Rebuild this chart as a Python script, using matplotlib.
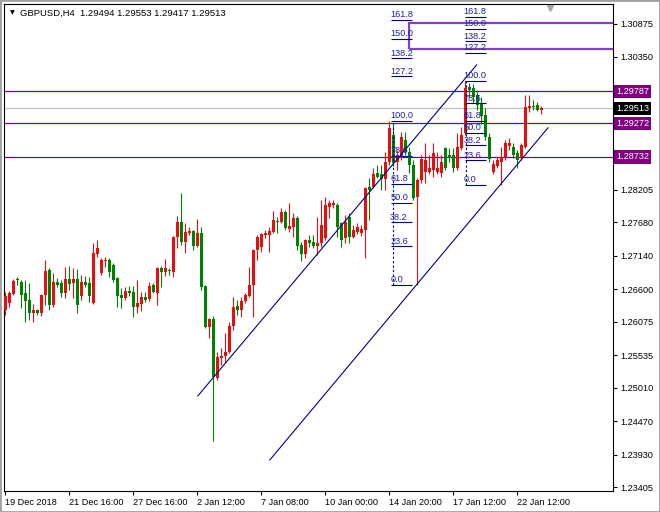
import numpy as np
import matplotlib.pyplot as plt
from matplotlib.patches import Rectangle
import matplotlib.transforms as mtransforms

plt.rcParams['font.family'] = ['Liberation Sans', 'DejaVu Sans']

# GBPUSD H4 bars (open, high, low, close)
opens = [
    1.26266, 1.26379, 1.26524, 1.26766, 1.26717, 1.26540, 1.26427, 1.26218, 1.26266, 1.26218,
    1.26508, 1.26911, 1.26347, 1.26717, 1.26701, 1.26540, 1.26766, 1.26701, 1.26766, 1.26492,
    1.26717, 1.26701, 1.26379, 1.27168, 1.26862, 1.27056, 1.27072, 1.26991, 1.26782, 1.26508,
    1.26459, 1.26572, 1.26556, 1.26314, 1.26363, 1.26475, 1.26443, 1.26669, 1.26540, 1.26943,
    1.26878, 1.26911, 1.26878, 1.27443, 1.27684, 1.27362, 1.27507, 1.27539, 1.27297, 1.27507,
    1.26653, 1.25992, 1.26121, 1.25170, 1.25492, 1.25525, 1.25589, 1.26008, 1.26330, 1.26266,
    1.26411, 1.26492, 1.26669, 1.27233, 1.27281, 1.27475, 1.27475, 1.27523, 1.27700, 1.27684,
    1.27845, 1.27571, 1.27604, 1.27749, 1.27314, 1.27168, 1.27394, 1.27362, 1.27297, 1.27346,
    1.27426, 1.27926, 1.27958, 1.27958, 1.27668, 1.27426, 1.27765, 1.27443, 1.27523, 1.27507,
    1.27555, 1.28248, 1.28248, 1.28474, 1.28458, 1.28377, 1.28651, 1.29086, 1.28651, 1.28716,
    1.29006, 1.28812, 1.28603, 1.28087, 1.28361, 1.28490, 1.28490, 1.28522, 1.28490, 1.28474,
    1.28877, 1.28764, 1.28764, 1.28555, 1.28877, 1.29119, 1.29860, 1.29844, 1.29731, 1.29586,
    1.29409, 1.29054, 1.28490, 1.28587, 1.28651, 1.28732, 1.28909, 1.28893, 1.28796, 1.28716,
    1.28893, 1.29521, 1.29554, 1.29570, 1.29494]
highs = [
    1.26556, 1.26572, 1.26766, 1.26798, 1.26749, 1.26749, 1.26701, 1.26363, 1.26282, 1.26524,
    1.27072, 1.26943, 1.26862, 1.26782, 1.26749, 1.26959, 1.26975, 1.26943, 1.26927, 1.26830,
    1.26814, 1.26798, 1.27346, 1.27394, 1.27104, 1.27120, 1.27104, 1.27023, 1.26798, 1.26621,
    1.26637, 1.26653, 1.26653, 1.26749, 1.26556, 1.26556, 1.26717, 1.26701, 1.26959, 1.26975,
    1.27088, 1.26943, 1.27459, 1.27781, 1.28152, 1.27668, 1.27604, 1.27555, 1.27733, 1.27604,
    1.26669, 1.26137, 1.26169, 1.25589, 1.25654, 1.25895, 1.26073, 1.26475, 1.26427, 1.26475,
    1.26540, 1.26959, 1.27249, 1.27475, 1.27507, 1.27555, 1.27604, 1.27862, 1.27765, 1.27910,
    1.27878, 1.27990, 1.27829, 1.27781, 1.27362, 1.27410, 1.27475, 1.27475, 1.27765, 1.28039,
    1.28087, 1.28039, 1.28039, 1.27990, 1.27684, 1.27797, 1.27829, 1.27636, 1.27668, 1.27636,
    1.28250, 1.28393, 1.28555, 1.28603, 1.28603, 1.28812, 1.29312, 1.29248, 1.28845, 1.29135,
    1.29135, 1.28893, 1.28684, 1.28393, 1.28764, 1.28958, 1.28764, 1.28958, 1.28812, 1.28764,
    1.28893, 1.28877, 1.28877, 1.29119, 1.29215, 1.29957, 1.29924, 1.29908, 1.29812, 1.29699,
    1.29521, 1.29119, 1.28684, 1.28732, 1.28893, 1.29006, 1.29038, 1.28958, 1.28845, 1.28958,
    1.29731, 1.29731, 1.29651, 1.29618, 1.29553]
lows = [
    1.26185, 1.26314, 1.26508, 1.26669, 1.26298, 1.26073, 1.26105, 1.26073, 1.26185, 1.26169,
    1.26347, 1.26266, 1.26314, 1.26637, 1.26475, 1.26459, 1.26588, 1.26459, 1.26218, 1.26427,
    1.26637, 1.26395, 1.26363, 1.27120, 1.26830, 1.26959, 1.26798, 1.26717, 1.26314, 1.26298,
    1.26427, 1.26492, 1.26153, 1.26218, 1.26250, 1.26395, 1.26411, 1.26540, 1.26347, 1.26637,
    1.26814, 1.26830, 1.26798, 1.27265, 1.27314, 1.27185, 1.27475, 1.27233, 1.27281, 1.26588,
    1.25976, 1.25815, 1.24147, 1.25138, 1.25380, 1.25412, 1.25573, 1.25944, 1.26185, 1.26153,
    1.26379, 1.26475, 1.26153, 1.27072, 1.27201, 1.27426, 1.27201, 1.27507, 1.27507, 1.27668,
    1.27555, 1.27523, 1.27443, 1.27233, 1.27056, 1.27104, 1.27281, 1.27265, 1.27152, 1.27281,
    1.27394, 1.27749, 1.27910, 1.27443, 1.27281, 1.27346, 1.27346, 1.27426, 1.27491, 1.27459,
    1.27104, 1.27716, 1.28232, 1.28393, 1.28200, 1.28200, 1.28603, 1.28587, 1.28522, 1.28684,
    1.28764, 1.28474, 1.28039, 1.26669, 1.28313, 1.28313, 1.28458, 1.28410, 1.28458, 1.28410,
    1.28522, 1.28651, 1.28490, 1.28522, 1.28845, 1.29086, 1.29699, 1.29602, 1.29489, 1.29264,
    1.29006, 1.28651, 1.28458, 1.28555, 1.28281, 1.28684, 1.28845, 1.28716, 1.28555, 1.28684,
    1.28877, 1.29457, 1.29489, 1.29473, 1.29417]
closes = [
    1.26492, 1.26540, 1.26733, 1.26749, 1.26508, 1.26411, 1.26218, 1.26266, 1.26218, 1.26508,
    1.26894, 1.26347, 1.26717, 1.26669, 1.26540, 1.26766, 1.26685, 1.26766, 1.26347, 1.26717,
    1.26669, 1.26492, 1.27185, 1.27265, 1.27072, 1.27072, 1.26878, 1.26749, 1.26492, 1.26459,
    1.26572, 1.26540, 1.26314, 1.26379, 1.26475, 1.26427, 1.26653, 1.26556, 1.26943, 1.26878,
    1.26943, 1.26894, 1.27443, 1.27684, 1.27362, 1.27523, 1.27539, 1.27297, 1.27507, 1.26637,
    1.25992, 1.26121, 1.25186, 1.25509, 1.25525, 1.25589, 1.26008, 1.26314, 1.26266, 1.26411,
    1.26508, 1.26669, 1.27233, 1.27443, 1.27491, 1.27507, 1.27539, 1.27716, 1.27684, 1.27845,
    1.27588, 1.27620, 1.27749, 1.27297, 1.27168, 1.27394, 1.27346, 1.27297, 1.27346, 1.27636,
    1.27958, 1.27990, 1.27990, 1.27604, 1.27394, 1.27684, 1.27443, 1.27555, 1.27604, 1.27571,
    1.28232, 1.28200, 1.28458, 1.28410, 1.28377, 1.28651, 1.29199, 1.28635, 1.28764, 1.29054,
    1.28812, 1.28603, 1.28071, 1.28361, 1.28700, 1.28684, 1.28555, 1.28796, 1.28555, 1.28651,
    1.28555, 1.28716, 1.28555, 1.28893, 1.29086, 1.29844, 1.29812, 1.29699, 1.29570, 1.29393,
    1.29054, 1.28700, 1.28619, 1.28684, 1.28732, 1.28958, 1.28958, 1.28764, 1.28684, 1.28925,
    1.29538, 1.29554, 1.29538, 1.29494, 1.29513]

time_ticks = [0, 16, 32, 48, 64, 80, 96, 112, 128]
time_labels = ['19 Dec 2018', '21 Dec 16:00', '27 Dec 16:00', '2 Jan 12:00', '7 Jan 08:00',
               '10 Jan 00:00', '14 Jan 20:00', '17 Jan 12:00', '22 Jan 12:00']
price_ticks = [1.30875, 1.30350, 1.28205, 1.27680, 1.27140, 1.26600, 1.26075,
               1.25535, 1.25010, 1.24470, 1.23930, 1.23405]

levels = [1.29787, 1.29272, 1.28732]   # horizontal lines
last_price = 1.29513

# channel lines: (bar, price) pairs
upper_line = ([48.2, 117.9], [1.24880, 1.30215])
lower_line = ([66.2, 135.75], [1.23848, 1.29202])

# fibo retracements: swing high / low
fib_levels = [0.0, 23.6, 38.2, 50.0, 61.8, 78.6, 100.0, 127.2, 138.2, 150.0, 161.8]
fib_left = (1.29312, 1.26669)
fib_right = (1.29957, 1.28281)

# rectangle zone
zone_lo, zone_hi, zone_start = 1.30472, 1.30891, 101

o = np.array(opens); h = np.array(highs); l = np.array(lows); c = np.array(closes)
x = np.arange(len(o))
up = c >= o

fig = plt.figure(figsize=(6.6, 5.12), dpi=100)
ax = fig.add_axes([4/660, 21/512, 609/660, 487/512])
ax.set_xlim(-0.25, 152)
ax.set_ylim(1.23348, 1.31197)

red = '#e41010'
green = '#008000'

# horizontal lines under the candles
ax.axhline(last_price, color='#c0c0c0', lw=0.9, zorder=1)
for lv in levels:
    ax.axhline(lv, color='#800080', lw=0.9, zorder=1)

# candles
ax.vlines(x[up], l[up], h[up], color=red, lw=0.8, zorder=3)
ax.vlines(x[~up], l[~up], h[~up], color=green, lw=0.8, zorder=3)
px = 0.00016
body_lo = np.minimum(o, c)
body_h = np.maximum(np.abs(c - o), px)
ax.bar(x[up], body_h[up], 0.75, bottom=body_lo[up], color=red, lw=0, zorder=4)
ax.bar(x[~up], body_h[~up], 0.75, bottom=body_lo[~up], color=green, lw=0, zorder=4)

# channel
for xs, ys in (upper_line, lower_line):
    ax.plot(xs, ys, color='#000080', lw=0.8, zorder=5)

# fibonacci
navy = '#000080'
for (hi, lo), x0, x1, xv in ((fib_left, 96.5, 101.8, 97.0), (fib_right, 114.9, 120.3, 115.3)):
    for fl in fib_levels:
        p = lo + (hi - lo) * fl / 100
        ax.hlines(p, x0, x1, color=navy, lw=0.8, zorder=6)
        ax.text(x0 - 0.2, p + 0.0001, f'{fl:.1f}', fontsize=6.6, color='#1f1fa0',
                ha='left', va='bottom', zorder=7)
    ax.vlines(xv, lo, hi, color=navy, lw=0.8, linestyles=(0, (2, 2)), zorder=6)

# rectangle
ax.add_patch(Rectangle((zone_start, zone_lo), 80, zone_hi - zone_lo, fill=False,
                       ec='#8040c8', lw=1.6, zorder=5))

# chart shift marker
trans = mtransforms.blended_transform_factory(ax.transData, ax.transAxes)
ax.plot([136.3], [0.992], marker='v', color='#a8a8a8', ms=5, transform=trans, clip_on=False)

# axes styling
for s in ax.spines.values():
    s.set_color('black')
    s.set_linewidth(0.8)
ax.yaxis.tick_right()
ax.set_yticks(price_ticks)
ax.set_yticklabels([f'{v:.5f}' for v in price_ticks])
ax.set_xticks(time_ticks)
ax.set_xticklabels(time_labels)
for lab in ax.get_xticklabels():
    lab.set_ha('left')
ax.tick_params(axis='both', direction='out', length=3, width=0.8, labelsize=6.6, pad=2)

# price labels on the axis
ytrans = mtransforms.blended_transform_factory(ax.transAxes, ax.transData)
for lv in levels:
    ax.text(1.0 + 3/609, lv, f'{lv:.5f}', transform=ytrans, fontsize=6.6, color='white',
            ha='left', va='center', clip_on=False,
            bbox=dict(boxstyle='square,pad=0.25', fc='#800080', ec='none'))
ax.text(1.0 + 3/609, last_price, f'{last_price:.5f}', transform=ytrans, fontsize=6.6,
        color='white', ha='left', va='center', clip_on=False,
        bbox=dict(boxstyle='square,pad=0.25', fc='black', ec='none'))

# title
fig.text(10/660, 1 - 13/512, '\u25bc', fontsize=4.5, va='center', ha='left',
         family='DejaVu Sans')
fig.text(20/660, 1 - 13/512, 'GBPUSD,H4  1.29494 1.29553 1.29417 1.29513',
         fontsize=6.8, va='center', ha='left')

fig.patches.append(Rectangle((0, 0), 1, 1, transform=fig.transFigure, fill=False,
                             ec='#a0a0a0', lw=2))

fig.savefig('out.png', dpi=100)
